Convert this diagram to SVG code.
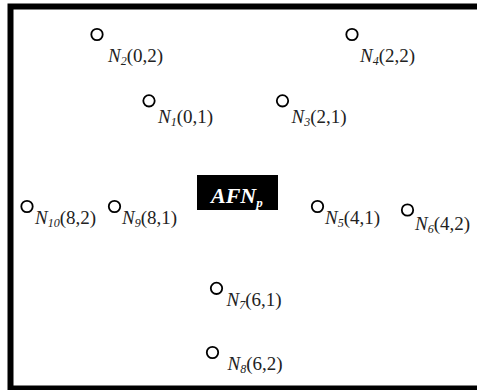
<svg xmlns="http://www.w3.org/2000/svg" width="477" height="390" viewBox="0 0 477 390">
<style>
.frame{fill:none;stroke:#000;stroke-width:6}
.n{fill:#fff;stroke:#000;stroke-width:1.8}
.lbl{font-family:"Liberation Serif","Times New Roman",serif;font-size:19px;fill:#222}
.it{font-style:italic}
.sub{font-style:italic;font-size:12px}
.box{fill:#000}
.ctr{font-family:"Liberation Serif","Times New Roman",serif;font-size:22px;font-weight:bold;font-style:italic;fill:#fff}
</style>
<rect width="477" height="390" fill="#fff"/>
<rect class="frame" x="10.5" y="6.5" width="480" height="382"/>
<g id="connectors"></g>
<g id="AFNp">
<rect class="box" x="197" y="175" width="81" height="35"/>
<text class="ctr" x="211" y="203">AFN<tspan font-size="13" dy="4">p</tspan></text>
</g>
<g id="N2"><circle class="n" cx="97" cy="34.5" r="5.7"/><text class="lbl" x="108" y="61.5"><tspan class="it">N</tspan><tspan class="sub" dy="3">2</tspan><tspan dy="-3">(0,2)</tspan></text></g>
<g id="N4"><circle class="n" cx="352" cy="34.5" r="5.7"/><text class="lbl" x="360" y="61.5"><tspan class="it">N</tspan><tspan class="sub" dy="3">4</tspan><tspan dy="-3">(2,2)</tspan></text></g>
<g id="N1"><circle class="n" cx="149" cy="100.8" r="5.7"/><text class="lbl" x="158" y="123"><tspan class="it">N</tspan><tspan class="sub" dy="3">1</tspan><tspan dy="-3">(0,1)</tspan></text></g>
<g id="N3"><circle class="n" cx="282.5" cy="100.8" r="5.7"/><text class="lbl" x="291.5" y="123"><tspan class="it">N</tspan><tspan class="sub" dy="3">3</tspan><tspan dy="-3">(2,1)</tspan></text></g>
<g id="N10"><circle class="n" cx="27" cy="206.5" r="5.7"/><text class="lbl" x="35" y="224"><tspan class="it">N</tspan><tspan class="sub" dy="3">10</tspan><tspan dy="-3">(8,2)</tspan></text></g>
<g id="N9"><circle class="n" cx="114.5" cy="206.5" r="5.7"/><text class="lbl" x="122" y="224"><tspan class="it">N</tspan><tspan class="sub" dy="3">9</tspan><tspan dy="-3">(8,1)</tspan></text></g>
<g id="N5"><circle class="n" cx="317.5" cy="206.5" r="5.7"/><text class="lbl" x="325" y="224"><tspan class="it">N</tspan><tspan class="sub" dy="3">5</tspan><tspan dy="-3">(4,1)</tspan></text></g>
<g id="N6"><circle class="n" cx="407.5" cy="210" r="5.7"/><text class="lbl" x="415" y="229.5"><tspan class="it">N</tspan><tspan class="sub" dy="3">6</tspan><tspan dy="-3">(4,2)</tspan></text></g>
<g id="N7"><circle class="n" cx="216.5" cy="288.3" r="5.7"/><text class="lbl" x="226.5" y="306"><tspan class="it">N</tspan><tspan class="sub" dy="3">7</tspan><tspan dy="-3">(6,1)</tspan></text></g>
<g id="N8"><circle class="n" cx="212.5" cy="352.5" r="5.7"/><text class="lbl" x="227.5" y="370"><tspan class="it">N</tspan><tspan class="sub" dy="3">8</tspan><tspan dy="-3">(6,2)</tspan></text></g>
</svg>
